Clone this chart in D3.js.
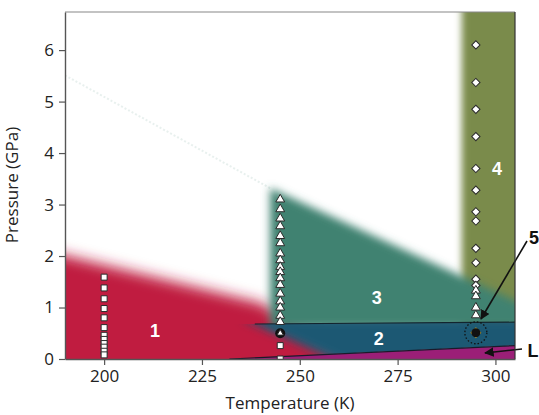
<!DOCTYPE html>
<html>
<head>
<meta charset="utf-8">
<script src="https://cdn.jsdelivr.net/npm/d3@7"></script>
<style>
  html, body { margin: 0; padding: 0; background: #fff; }
  svg { display: block; font-family: "Open Sans", "Noto Sans", sans-serif; }
</style>
</head>
<body>
<svg id="chart" width="539" height="415"></svg>
<script>
// Phase diagram: regions 1-4, L, and measured points along three isotherms.
const xTicks = [200, 225, 250, 275, 300];
const yTicks = [0, 1, 2, 3, 4, 5, 6];

// region outlines in (T, P)
const region1 = [[180, 2.2], [240, 1.09], [264, 0], [266, -0.5], [180, -0.5]];
const region4 = [[291.4, 7.5], [315, 7.5], [315, 0.6], [291.4, 0.6]];
const region3 = [[242.4, 3.32], [315, 0.78], [315, 0.6], [242.4, 0.6]];
const region2 = [[235, 0.8], [315, 0.8], [315, -0.3], [267, -0.3]];
const bandTop = [[238.5, 0.68], [305, 0.715]];
const liquidLine = [[232, 0], [305, 0.26]];
const faintLine = [[190, 5.51], [242.4, 3.32]];

// measurements
const sq200 = [1.59, 1.38, 1.17, 0.98, 0.80, 0.61, 0.46, 0.38, 0.30, 0.23, 0.15, 0.08];
const tri245 = [3.10, 2.91, 2.73, 2.58, 2.39, 2.25, 2.05, 1.92, 1.79, 1.69, 1.57, 1.44, 1.27, 1.12, 1.00, 0.84, 0.72];
const sq245 = [0.26, 0.0];
const dot245 = [0.50];
const dia295 = [6.10, 5.37, 4.85, 4.32, 3.70, 3.28, 2.86, 2.68, 2.15, 1.87, 1.55, 1.43];
const tri295 = [1.33, 1.22, 1.00, 0.85];
const phase5 = [[295, 0.51]];

const labels = [
  { t: "1", T: 213, P: 0.54 },
  { t: "2", T: 270.2, P: 0.39 },
  { t: "3", T: 269.7, P: 1.20 },
  { t: "4", T: 300.4, P: 3.69 }
];

const colors = { r1: "#c01e3f", r2: "#1b5873", r3: "#3f8271", r4: "#7a8b4b", L: "#9b1f77" };

const W = 539, H = 415;
const m = { t: 12, r: 24, b: 56, l: 65 };
const svg = d3.select("#chart");

const x = d3.scaleLinear().domain([190, 305]).range([m.l, W - m.r]);
const y = d3.scaleLinear().domain([0, 6.74]).range([H - m.b, m.t]);
const line = d3.line().x(d => x(d[0])).y(d => y(d[1]));
const poly = pts => line(pts) + "Z";

const defs = svg.append("defs");
defs.append("clipPath").attr("id", "plot")
  .append("rect").attr("x", m.l).attr("y", m.t)
  .attr("width", W - m.l - m.r).attr("height", H - m.t - m.b);

function blur(id, sd) {
  defs.append("filter").attr("id", id)
    .attr("x", "-30%").attr("y", "-30%").attr("width", "160%").attr("height", "160%")
    .append("feGaussianBlur").attr("stdDeviation", sd);
}
blur("b1", 7);
blur("b3", 4);
blur("b4", 3.5);
blur("b2", 5);

// band 2 clip: between band top line and liquid line
const bandClip = [[220, 0.68 + (220 - 238.5) * 0.035 / 66.5], [305, 0.715], [305, 0.26], [220, (220 - 232) * 0.26 / 73]];
defs.append("clipPath").attr("id", "band")
  .append("path").attr("d", poly(bandClip));

const g = svg.append("g").attr("clip-path", "url(#plot)");

g.append("path").attr("d", poly(region1)).attr("fill", colors.r1).attr("filter", "url(#b1)");
g.append("path").attr("d", poly(region4)).attr("fill", colors.r4).attr("filter", "url(#b4)");
g.append("path").attr("d", poly(region3)).attr("fill", colors.r3).attr("filter", "url(#b3)");
g.append("g").attr("clip-path", "url(#band)")
  .append("path").attr("d", poly(region2)).attr("fill", colors.r2).attr("filter", "url(#b2)");
g.append("path").attr("d", poly([liquidLine[0], liquidLine[1], [310, 0.28], [310, -0.5], [220, -0.5]]))
  .attr("fill", colors.L);

g.append("path").attr("d", line(bandTop)).attr("fill", "none").attr("stroke", "#13242e").attr("stroke-width", 1.2);
g.append("path").attr("d", line(liquidLine)).attr("fill", "none").attr("stroke", "#1a1a2a").attr("stroke-width", 1.2);
g.append("path").attr("d", line(faintLine)).attr("fill", "none")
  .attr("stroke", "#3f8271").attr("stroke-opacity", 0.12)
  .attr("stroke-width", 2).attr("stroke-dasharray", "2,2");

// markers
const sym = (type, size) => d3.symbol().type(type).size(size)();
function marks(T, vals, type, size, rot) {
  g.append("g").selectAll("path").data(vals).join("path")
    .attr("transform", d => `translate(${x(T)},${y(d)}) rotate(${rot || 0})`)
    .attr("d", sym(type, size))
    .attr("fill", "#fff").attr("stroke", "#2a2a2a").attr("stroke-width", 1);
}
marks(200, sq200, d3.symbolSquare, 36);
marks(245, sq245, d3.symbolSquare, 36);
g.append("g").selectAll("circle").data(dot245).join("circle")
  .attr("cx", x(245)).attr("cy", d => y(d)).attr("r", 5).attr("fill", "#111");
marks(245, tri245, d3.symbolTriangle, 34);
marks(245, dot245, d3.symbolTriangle, 18);
marks(295, dia295, d3.symbolSquare, 34, 45);
marks(295, tri295, d3.symbolTriangle, 34);

const p5 = g.append("g").selectAll("g").data(phase5).join("g")
  .attr("transform", d => `translate(${x(d[0])},${y(d[1])})`);
p5.append("circle").attr("r", 11).attr("fill", "none")
  .attr("stroke", "#111").attr("stroke-width", 1.3).attr("stroke-dasharray", "1.5,2");
p5.append("path").attr("d", sym(d3.symbolSquare, 60)).attr("transform", "rotate(45)").attr("fill", "#c9a227");
p5.append("circle").attr("r", 4.5).attr("fill", "#111");

// region labels
svg.append("g").selectAll("text").data(labels).join("text")
  .attr("x", d => x(d.T)).attr("y", d => y(d.P))
  .attr("text-anchor", "middle").attr("dy", "0.35em")
  .attr("fill", "#fff").style("font-family", "'Liberation Sans', Arial, sans-serif")
  .style("font-size", "18px").style("font-weight", 700)
  .text(d => d.t);

// arrows
defs.append("marker").attr("id", "arrow").attr("viewBox", "0 0 10 10")
  .attr("refX", 9).attr("refY", 5).attr("markerWidth", 6).attr("markerHeight", 6)
  .attr("orient", "auto-start-reverse")
  .append("path").attr("d", "M0,0L10,5L0,10Z").attr("fill", "#111");

svg.append("line").attr("x1", 527).attr("y1", 241).attr("x2", 481).attr("y2", 319)
  .attr("stroke", "#111").attr("stroke-width", 1.6).attr("marker-end", "url(#arrow)");
svg.append("line").attr("x1", 522).attr("y1", 349).attr("x2", 485).attr("y2", 353)
  .attr("stroke", "#111").attr("stroke-width", 1.6).attr("marker-end", "url(#arrow)");

svg.append("text").attr("x", 534).attr("y", 238).attr("text-anchor", "middle").attr("dy", "0.35em")
  .style("font-family", "'Liberation Sans', Arial, sans-serif").style("font-size", "18px").style("font-weight", 700)
  .attr("fill", "#111").text("5");
svg.append("text").attr("x", 533).attr("y", 351).attr("text-anchor", "middle").attr("dy", "0.35em")
  .style("font-family", "'Liberation Sans', Arial, sans-serif").style("font-size", "18px").style("font-weight", 700)
  .attr("fill", "#111").text("L");

// frame
svg.append("line").attr("x1", m.l).attr("x2", W - m.r).attr("y1", m.t).attr("y2", m.t)
  .attr("stroke", "#888").attr("stroke-width", 1.2);
svg.append("line").attr("x1", W - m.r).attr("x2", W - m.r).attr("y1", m.t).attr("y2", H - m.b)
  .attr("stroke", "#333").attr("stroke-width", 1.2);

// axes
const styleAxis = a => {
  a.select(".domain").attr("stroke", "#555").attr("stroke-width", 1.4);
  a.selectAll(".tick line").attr("stroke", "#555").attr("stroke-width", 1.2);
  a.selectAll(".tick text").attr("fill", "#222").style("font-size", "17px")
    .style("font-family", "'Open Sans', sans-serif");
};
svg.append("g").attr("transform", `translate(0,${H - m.b})`)
  .call(d3.axisBottom(x).tickValues(xTicks).tickSize(6).tickSizeOuter(0).tickPadding(5).tickFormat(d3.format("d")))
  .call(styleAxis);
svg.append("g").attr("transform", `translate(${m.l},0)`)
  .call(d3.axisLeft(y).tickValues(yTicks).tickSize(6).tickSizeOuter(0).tickPadding(5).tickFormat(d3.format("d")))
  .call(styleAxis);

svg.append("text").attr("x", 290).attr("y", 409).attr("text-anchor", "middle")
  .attr("fill", "#222").style("font-size", "17px").text("Temperature (K)");
svg.append("text").attr("transform", "translate(18,185) rotate(-90)").attr("text-anchor", "middle")
  .attr("fill", "#222").style("font-size", "17px").text("Pressure (GPa)");
</script>
</body>
</html>
